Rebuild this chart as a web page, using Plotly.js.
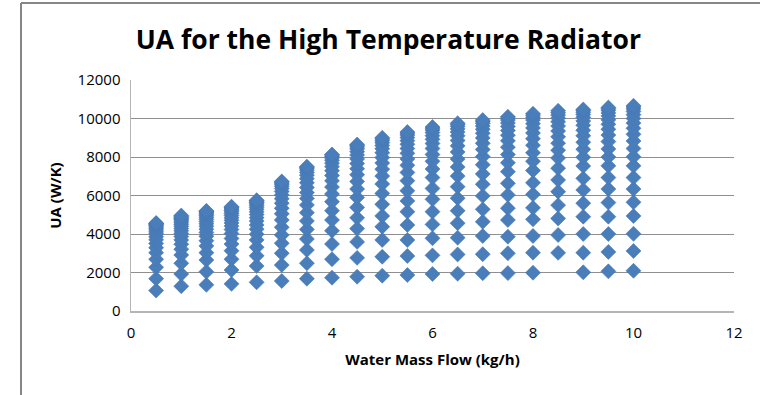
<!DOCTYPE html>
<html><head><meta charset="utf-8">
<script src="https://cdn.plot.ly/plotly-3.0.1.min.js"></script>
<style>html,body{margin:0;padding:0;background:#fff}#chart{width:760px;height:395px}</style>
</head><body><div id="chart"></div>
<script>
// Water mass flow (kg/h) for each column of points
const waterFlow = [0.5, 1, 1.5, 2, 2.5, 3, 3.5, 4, 4.5, 5, 5.5, 6, 6.5, 7, 7.5, 8, 8.5, 9, 9.5, 10];

// UA (W/K) values read per water flow
const ua_0_5 = [1060, 1680, 2270, 2690, 3030, 3290, 3510, 3700, 3860, 4000, 4110, 4210, 4300, 4370, 4430, 4480, 4520, 4550, 4570];
const ua_1_0 = [1290, 1920, 2480, 2910, 3210, 3470, 3690, 3870, 4030, 4170, 4290, 4400, 4500, 4590, 4670, 4740, 4800, 4860, 4910, 4960];
const ua_1_5 = [1360, 2040, 2650, 3030, 3380, 3650, 3880, 4080, 4250, 4400, 4530, 4650, 4760, 4860, 4950, 5030, 5090, 5140, 5180, 5200];
const ua_2_0 = [1410, 2130, 2690, 3130, 3480, 3770, 4020, 4230, 4410, 4570, 4710, 4840, 4960, 5060, 5150, 5230, 5290, 5350, 5390, 5420];
const ua_2_5 = [1490, 2340, 2870, 3310, 3690, 3990, 4250, 4470, 4670, 4850, 5010, 5150, 5280, 5390, 5490, 5570, 5640, 5700, 5730, 5750];
const ua_3_0 = [1560, 2390, 3000, 3520, 3950, 4350, 4730, 5050, 5340, 5600, 5830, 6030, 6210, 6360, 6480, 6580, 6650, 6700, 6730];
const ua_3_5 = [1680, 2480, 3170, 3740, 4240, 4680, 5110, 5510, 5850, 6150, 6420, 6660, 6870, 7050, 7200, 7320, 7410, 7470, 7500];
const ua_4_0 = [1730, 2690, 3480, 4170, 4730, 5210, 5680, 6080, 6440, 6760, 7040, 7290, 7500, 7680, 7830, 7950, 8040, 8100, 8130];
const ua_4_5 = [1780, 2760, 3590, 4280, 4840, 5380, 5900, 6340, 6730, 7080, 7390, 7660, 7900, 8100, 8270, 8410, 8520, 8600, 8650];
const ua_5_0 = [1835, 2820, 3690, 4380, 4940, 5540, 6110, 6600, 7010, 7370, 7690, 7970, 8220, 8430, 8600, 8740, 8850, 8940, 9000];
const ua_5_5 = [1870, 2860, 3690, 4470, 5160, 5720, 6250, 6770, 7200, 7570, 7900, 8190, 8440, 8660, 8850, 9010, 9140, 9240, 9300];
const ua_6_0 = [1920, 2890, 3780, 4500, 5160, 5800, 6370, 6930, 7380, 7780, 8130, 8440, 8700, 8920, 9110, 9270, 9400, 9500, 9560];
const ua_6_5 = [1940, 2940, 3810, 4560, 5210, 5860, 6460, 7010, 7480, 7890, 8260, 8580, 8860, 9100, 9300, 9460, 9590, 9690, 9750];
const ua_7_0 = [1960, 2950, 3900, 4640, 5280, 5980, 6580, 7120, 7600, 8020, 8390, 8710, 8990, 9230, 9440, 9610, 9750, 9850, 9920];
const ua_7_5 = [1970, 3000, 3860, 4730, 5340, 6030, 6630, 7240, 7700, 8130, 8510, 8840, 9130, 9380, 9590, 9770, 9920, 10030, 10090];
const ua_8_0 = [1990, 3030, 3900, 4760, 5360, 6060, 6660, 7300, 7780, 8220, 8610, 8950, 9250, 9510, 9730, 9920, 10070, 10180, 10250];
const ua_8_5 = [3020, 3950, 4810, 5500, 6200, 6810, 7420, 7950, 8350, 8720, 9050, 9350, 9610, 9830, 10020, 10180, 10300, 10400];
const ua_9_0 = [2010, 3030, 4000, 4900, 5600, 6290, 6890, 7530, 7990, 8400, 8770, 9100, 9390, 9650, 9870, 10060, 10210, 10330, 10420, 10470];
const ua_9_5 = [2060, 3070, 4000, 4900, 5630, 6340, 6930, 7540, 8000, 8420, 8800, 9140, 9440, 9700, 9930, 10130, 10290, 10420, 10510, 10570];
const ua_10_0 = [2090, 3120, 4010, 4940, 5650, 6340, 6930, 7540, 8010, 8440, 8830, 9180, 9490, 9760, 10000, 10200, 10370, 10500, 10600, 10660];

const xTickVals = [0, 2, 4, 6, 8, 10, 12];
const yTickVals = [0, 2000, 4000, 6000, 8000, 10000, 12000];

const uaColumns = [ua_0_5, ua_1_0, ua_1_5, ua_2_0, ua_2_5, ua_3_0, ua_3_5, ua_4_0, ua_4_5, ua_5_0,
                   ua_5_5, ua_6_0, ua_6_5, ua_7_0, ua_7_5, ua_8_0, ua_8_5, ua_9_0, ua_9_5, ua_10_0];
const xs = [], ys = [];
uaColumns.forEach((col, i) => col.forEach(v => { xs.push(waterFlow[i]); ys.push(v); }));

const trace = {
  type: 'scatter', mode: 'markers', x: xs, y: ys,
  marker: {symbol: 'diamond', size: 11.5, color: '#4A7EBB', line: {width: 0.6, color: '#4677B4'}},
  hoverinfo: 'x+y'
};

const FONT = 'Open Sans, Arial, sans-serif';

const layout = {
  width: 760, height: 395,
  margin: {l: 131, r: 26, t: 80, b: 84},
  paper_bgcolor: '#ffffff', plot_bgcolor: '#ffffff',
  showlegend: false,
  title: {text: 'UA for the High Temperature Radiator', x: 0.511, xref: 'container', y: 0.9, yref: 'container',
          xanchor: 'center', yanchor: 'middle',
          font: {family: FONT, size: 26.5, weight: 'bold', color: '#000000'}},
  xaxis: {range: [0, 12], tickvals: xTickVals, ticktext: xTickVals.map(String),
          showgrid: false, zeroline: false, showline: true, linecolor: '#b5b5b5', linewidth: 1.5,
          ticks: '', ticklabelstandoff: 7, tickfont: {family: FONT, size: 15, color: '#000'},
          title: {text: 'Water Mass Flow (kg/h)', standoff: 14, font: {family: FONT, size: 15, weight: 'bold', color: '#000'}}},
  yaxis: {range: [0, 12000], tickvals: yTickVals, ticktext: yTickVals.map(String),
          showgrid: true, gridcolor: '#8f8f8f', gridwidth: 1, zeroline: false,
          showline: true, linecolor: '#b5b5b5', linewidth: 1.5,
          ticks: '', ticklabelstandoff: 6, tickfont: {family: FONT, size: 15, color: '#000'},
          title: {text: 'UA (W/K)', standoff: 12, font: {family: FONT, size: 15, weight: 'bold', color: '#000'}}},
  shapes: [
    {type: 'line', xref: 'paper', yref: 'paper', x0: -0.1824, x1: -0.1824, y0: -0.5, y1: 1.3333, line: {color: '#868686', width: 2}},
    {type: 'line', xref: 'paper', yref: 'paper', x0: -0.1824, x1: 1.2, y0: 1.3333, y1: 1.3333, line: {color: '#868686', width: 2}}
  ]
};

Plotly.newPlot('chart', [trace], layout, {displayModeBar: false, staticPlot: true});
</script>
</body></html>
